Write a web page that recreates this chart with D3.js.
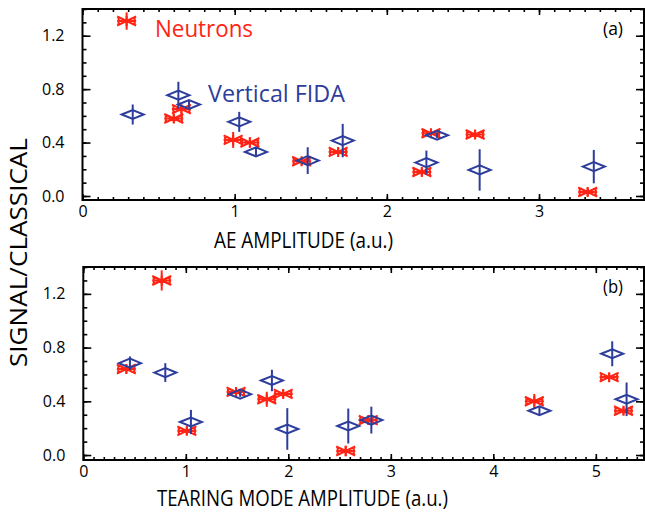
<!DOCTYPE html>
<html>
<head>
<meta charset="utf-8">
<script src="https://cdn.jsdelivr.net/npm/d3@7"></script>
<style>
  body { margin: 0; background: #fff; }
  svg text { font-family: "Open Sans", "Noto Sans", sans-serif; }
</style>
</head>
<body>
<div id="chart"></div>
<script>
// panel (a): AE amplitude
const aeNeutronX   = [0.29, 0.60, 0.65, 0.99, 1.10, 1.44, 1.68, 2.23, 2.29, 2.58, 3.32];
const aeNeutronY   = [1.31, 0.58, 0.65, 0.42, 0.40, 0.26, 0.33, 0.18, 0.47, 0.46, 0.03];
const aeNeutronErr = [0.065, 0.03, 0.03, 0.06, 0.04, 0.03, 0.03, 0.03, 0.03, 0.03, 0.03];
const aeFidaX   = [0.33, 0.63, 0.70, 1.03, 1.14, 1.48, 1.71, 2.26, 2.33, 2.61, 3.36];
const aeFidaY   = [0.61, 0.755, 0.685, 0.555, 0.33, 0.265, 0.415, 0.25, 0.455, 0.195, 0.22];
const aeFidaErr = [0.075, 0.10, 0.03, 0.075, 0.03, 0.10, 0.125, 0.09, 0.02, 0.155, 0.125];

// panel (b): tearing mode amplitude
const tmNeutronX   = [0.42, 0.765, 1.01, 1.49, 1.79, 1.95, 2.56, 2.78, 4.40, 5.13, 5.27];
const tmNeutronY   = [0.64, 1.30, 0.18, 0.47, 0.415, 0.455, 0.03, 0.26, 0.40, 0.58, 0.33];
const tmNeutronErr = [0.03, 0.075, 0.03, 0.03, 0.056, 0.03, 0.04, 0.03, 0.055, 0.03, 0.03];
const tmFidaX   = [0.455, 0.80, 1.05, 1.53, 1.84, 1.99, 2.585, 2.81, 4.45, 5.16, 5.30];
const tmFidaY   = [0.684, 0.614, 0.246, 0.453, 0.555, 0.194, 0.216, 0.26, 0.33, 0.754, 0.415];
const tmFidaErr = [0.05, 0.07, 0.09, 0.02, 0.08, 0.155, 0.13, 0.10, 0.03, 0.093, 0.125];

const yTicks = [0, 0.4, 0.8, 1.2];
const aeTicks = [0, 1, 2, 3];
const tmTicks = [0, 1, 2, 3, 4, 5];

const red = "#ff2414";
const blue = "#2d3d9c";

const width = 645, height = 512;
const svg = d3.select("#chart").append("svg")
    .attr("width", width)
    .attr("height", height);

function zip(xs, ys, es) {
    return xs.map((x, i) => ({ x: x, y: ys[i], e: es[i] }));
}

// text squeezed to the width the original (a narrow font) takes
function label(parent, x, y, size, len, txt, color) {
    return parent.append("text")
        .attr("x", x).attr("y", y)
        .attr("font-size", size).attr("fill", color || "#000")
        .attr("textLength", len).attr("lengthAdjust", "spacingAndGlyphs")
        .text(txt);
}

function drawPanel(opt) {
    const x = d3.scaleLinear().domain(opt.xDomain).range([opt.left, opt.right]);
    const y = d3.scaleLinear().domain([opt.yMin, 1.4]).range([opt.bottom, opt.top]);
    const g = svg.append("g");

    // minor ticks, all four sides, pointing in
    const xMinor = d3.range(0, opt.xDomain[1], 0.1);
    const yMinor = d3.range(0, 1.41, 0.1);
    g.append("g").attr("transform", `translate(0,${opt.bottom})`)
        .call(d3.axisBottom(x).tickValues(xMinor).tickSize(-3).tickFormat(""));
    g.append("g").attr("transform", `translate(0,${opt.top})`)
        .call(d3.axisTop(x).tickValues(xMinor).tickSize(-3).tickFormat(""));
    g.append("g").attr("transform", `translate(${opt.left},0)`)
        .call(d3.axisLeft(y).tickValues(yMinor).tickSize(-4).tickFormat(""));
    g.append("g").attr("transform", `translate(${opt.right},0)`)
        .call(d3.axisRight(y).tickValues(yMinor).tickSize(-4).tickFormat(""));

    // major ticks
    g.append("g").attr("class", "lab").attr("transform", `translate(0,${opt.bottom})`)
        .call(d3.axisBottom(x).tickValues(opt.xTicks).tickSize(-6).tickPadding(6).tickFormat(d3.format("d")));
    g.append("g").attr("transform", `translate(0,${opt.top})`)
        .call(d3.axisTop(x).tickValues(opt.xTicks).tickSize(-6).tickFormat(""));
    g.append("g").attr("class", "lab").attr("transform", `translate(${opt.left},0)`)
        .call(d3.axisLeft(y).tickValues(yTicks).tickSize(-8).tickPadding(18).tickFormat(d3.format(".1f")));
    g.append("g").attr("transform", `translate(${opt.right},0)`)
        .call(d3.axisRight(y).tickValues(yTicks).tickSize(-8).tickFormat(""));

    g.selectAll(".domain").remove();
    g.selectAll(".tick line").attr("stroke", "#000").attr("stroke-width", 1.6);
    g.selectAll(".lab text").attr("font-size", 16).attr("fill", "#000")
        .style("font-family", "'Open Sans', sans-serif");

    // frame
    g.append("rect")
        .attr("x", opt.left).attr("y", opt.top)
        .attr("width", opt.right - opt.left).attr("height", opt.bottom - opt.top)
        .attr("fill", "none").attr("stroke", "#000").attr("stroke-width", 2);

    // neutrons: flattened asterisk with error bar
    const nG = g.append("g").attr("stroke", red).attr("stroke-width", 2).attr("fill", "none");
    const nPts = nG.selectAll("g").data(opt.neutrons).join("g")
        .attr("transform", d => `translate(${x(d.x)},${y(d.y)})`);
    nPts.append("line").attr("x1", 0).attr("x2", 0)
        .attr("y1", d => y(d.y - d.e) - y(d.y)).attr("y2", d => y(d.y + d.e) - y(d.y));
    nPts.append("path").attr("d", "M-9.5,0H9.5M-9.5,-4.5L9.5,4.5M-9.5,4.5L9.5,-4.5M0,-5V5M-8,-3V3M8,-3V3")
        .attr("stroke-width", 2.1);

    // FIDA: diamond with error bar
    const fG = g.append("g").attr("stroke", blue).attr("stroke-width", 2).attr("fill", "none");
    const fPts = fG.selectAll("g").data(opt.fida).join("g")
        .attr("transform", d => `translate(${x(d.x)},${y(d.y)})`);
    fPts.append("line").attr("x1", 0).attr("x2", 0)
        .attr("y1", d => y(d.y - d.e) - y(d.y)).attr("y2", d => y(d.y + d.e) - y(d.y));
    fPts.append("path").attr("d", "M-11,0L0,-4.5L11,0L0,4.5Z");

    // panel letter
    label(g, opt.right - 41, opt.top + 26, 19, 20, opt.letter);

    // x title
    label(g, opt.titleX, opt.titleY, 22, opt.titleLen, opt.xTitle);

    return { x: x, y: y, g: g };
}

const panelA = drawPanel({
    left: 82.5, right: 644, top: 9, bottom: 200, yMin: -0.03,
    xDomain: [0, 3.69], xTicks: aeTicks, letter: "(a)",
    xTitle: "AE AMPLITUDE (a.u.)", titleX: 214, titleY: 248, titleLen: 179,
    neutrons: zip(aeNeutronX, aeNeutronY, aeNeutronErr),
    fida: zip(aeFidaX, aeFidaY, aeFidaErr)
});

drawPanel({
    left: 83.3, right: 644, top: 267, bottom: 460, yMin: -0.037,
    xDomain: [0, 5.47], xTicks: tmTicks, letter: "(b)",
    xTitle: "TEARING MODE AMPLITUDE (a.u.)", titleX: 157, titleY: 506, titleLen: 291,
    neutrons: zip(tmNeutronX, tmNeutronY, tmNeutronErr),
    fida: zip(tmFidaX, tmFidaY, tmFidaErr)
});

// series labels in panel (a)
label(panelA.g, 155, 37, 23.5, 98, "Neutrons", red);
label(panelA.g, 208, 102, 23.5, 137, "Vertical FIDA", blue);

// shared y title
label(svg.append("g").attr("transform", "translate(27,367) rotate(-90)"),
    0, 0, 23.5, 229, "SIGNAL/CLASSICAL");
</script>
</body>
</html>
